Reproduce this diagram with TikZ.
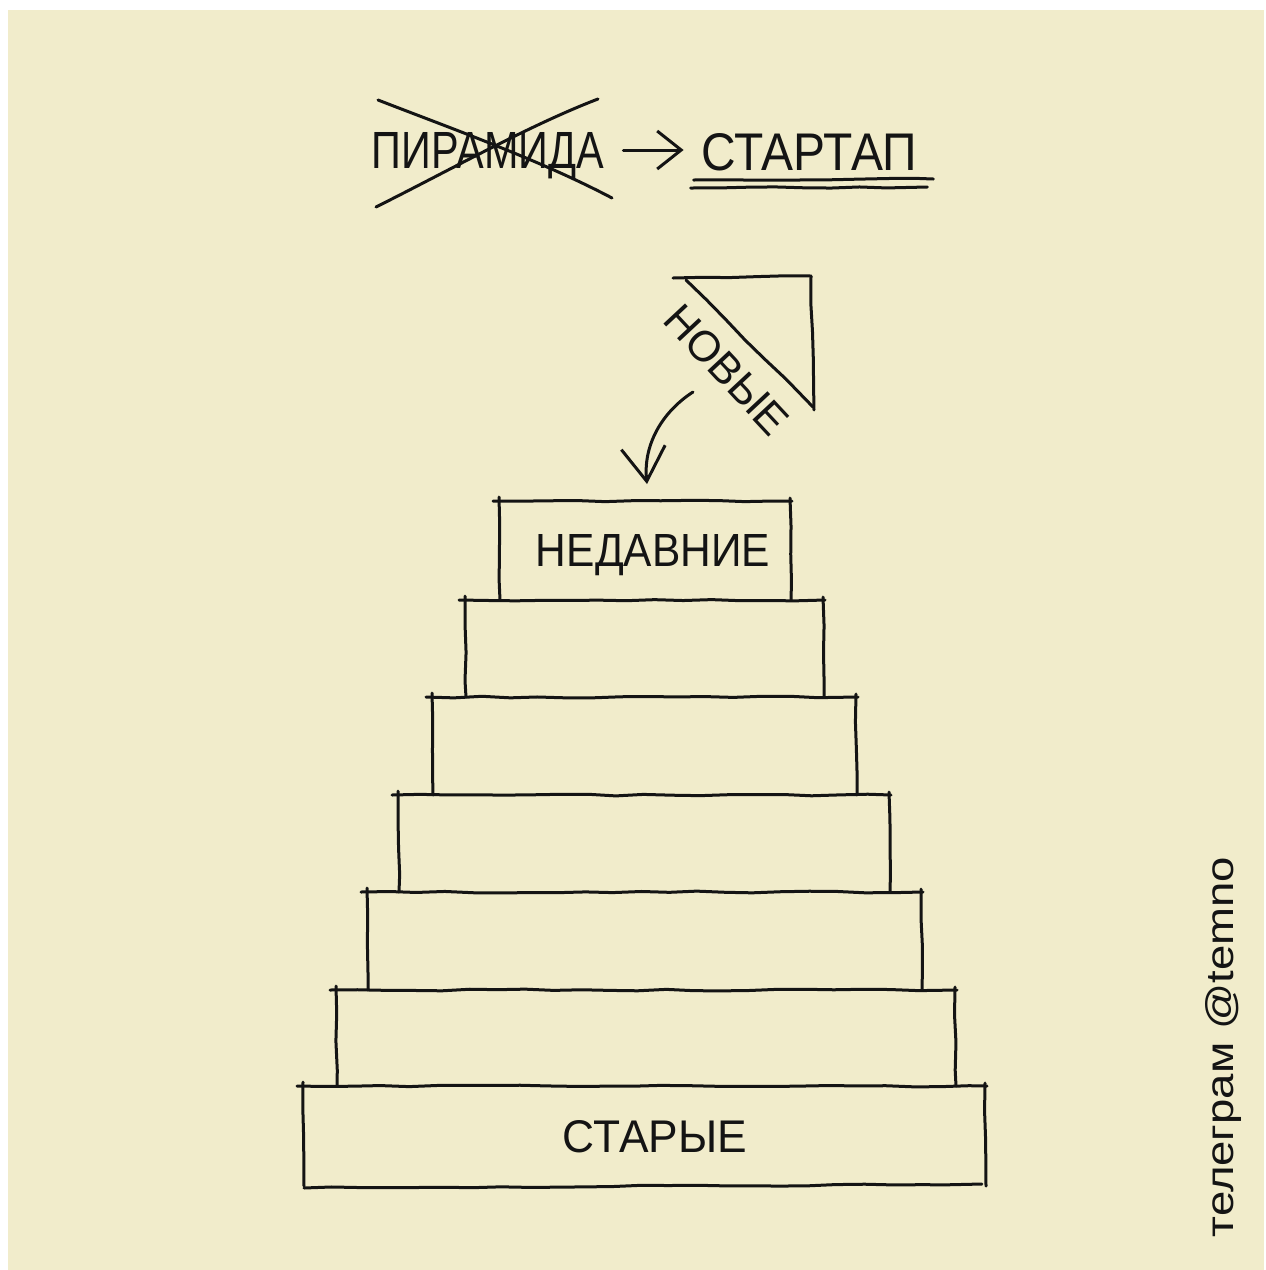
\documentclass[tikz,border=0pt]{standalone}
\usepackage{graphicx}
\usepackage{fontspec}
\setmainfont{Liberation Sans}
\usetikzlibrary{arrows.meta,decorations.pathmorphing}
\definecolor{paper}{RGB}{241,236,203}
\definecolor{ink}{RGB}{20,20,20}
\tikzset{
  inkline/.style={draw=ink, line width=1.5pt, line cap=round, line join=round,
    decorate, decoration={random steps, segment length=14pt, amplitude=0.45pt}},
  plainink/.style={draw=ink, line width=1.5pt, line cap=round, line join=round},
  handtext/.style={text=ink, inner sep=0pt, anchor=base},
}
\begin{document}
\begin{tikzpicture}[x=0.5pt, y=-0.5pt]
\pgfmathsetseed{11}
\useasboundingbox (0,0) rectangle (1265,1270);
\fill[white] (0,0) rectangle (1265,1270);
\fill[paper] (8,10) rectangle (1264,1270);

% title
\node[handtext] (pyr) at (488,168) {\resizebox{116pt}{18pt}{ПИРАМИДА}};
\node[handtext] (start) at (809,170) {\resizebox{108pt}{18.5pt}{СТАРТАП}};
\draw[plainink] (378,100) .. controls (450,128) and (540,160) .. (612,198);
\draw[plainink] (376,207) .. controls (450,170) and (530,125) .. (598,99);
\draw[plainink, -{Straight Barb[length=12pt,width=19pt]}]
  ([shift={(19,-18)}]pyr.base east) -- ([shift={(-17,-20)}]start.base west);
\draw[inkline] ([shift={(-7,10)}]start.base west) -- ([shift={(16,9)}]start.base east);
\draw[inkline] ([shift={(-10,18)}]start.base west) -- ([shift={(10,17)}]start.base east);

% triangle and new
\draw[inkline] (673,278) -- (811,276);
\draw[inkline] (811,276) -- (814,410);
\draw[inkline] (686,280) -- (813,407);
\node[handtext, rotate=-47] (new) at (716,380) {\resizebox{80pt}{15pt}{НОВЫЕ}};
\coordinate (arrowstart) at (693,392);
\coordinate (arrowend) at (647,484);
\draw[plainink, -{Straight Barb[length=17pt,width=22pt]}]
  (arrowstart) .. controls (662,412) and (643,445) .. (arrowend);

% pyramid
\foreach \t/\b/\l/\r in {501/600/499/790, 600/697/465/823, 697/795/432/856,
  795/892/398/889, 892/990/367/921, 990/1086/336/955, 1086/1186/303/985}{
  \draw[inkline] (\l-6,\t) -- (\r+2,\t);
  \draw[inkline] (\l,\t-4) -- (\l+1,\b);
  \draw[inkline] (\r,\t-3) -- (\r+1,\b);
}
\draw[inkline] (304,1188) -- (982,1184);
\node[handtext] (recent) at (653,566) {\resizebox{117pt}{16pt}{НЕДАВНИЕ}};
\node[handtext] (old) at (655,1152) {\resizebox{92pt}{16pt}{СТАРЫЕ}};

% signature
\node[handtext, rotate=90] (tg) at (1233,1047) {\resizebox{190pt}{14pt}{телеграм @temno}};
\end{tikzpicture}
\end{document}
